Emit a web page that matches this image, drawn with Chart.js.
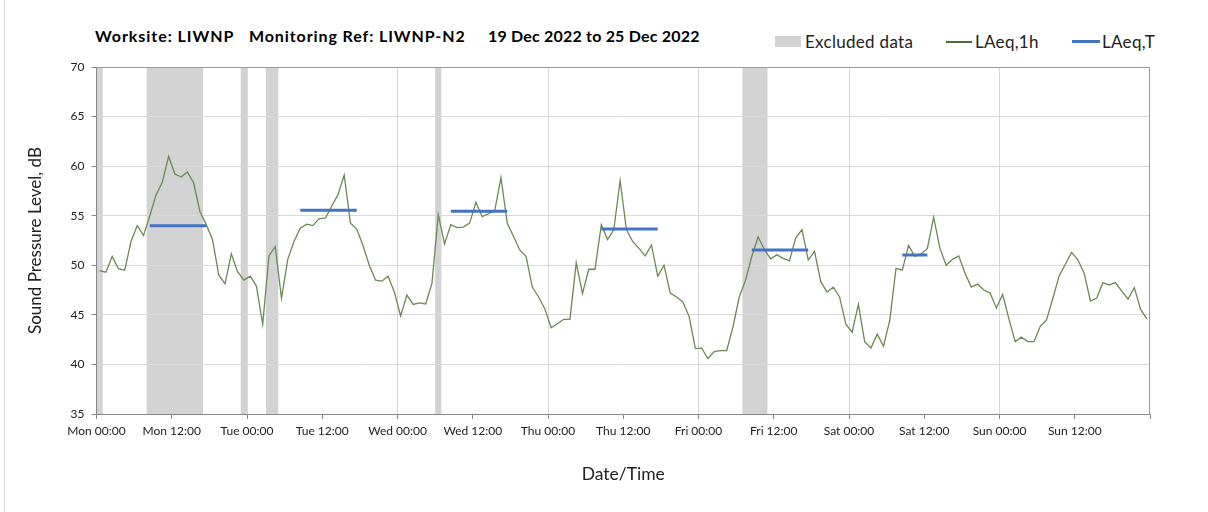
<!DOCTYPE html>
<html>
<head>
<meta charset="utf-8">
<script src="https://cdn.jsdelivr.net/npm/chart.js@4.4.0/dist/chart.umd.min.js"></script>
<style>
  body { margin: 0; background: #fff; font-family: Lato, "Open Sans", sans-serif; color: #000; }
  #wrap { position: relative; width: 1208px; height: 512px; overflow: hidden; }
  #frame { position: absolute; left: 4px; top: 0; width: 1px; height: 512px; background: #d9d9d9; }
  .ttl { position: absolute; top: 26px; font-weight: bold; font-size: 16px; white-space: nowrap; }
  .leg { position: absolute; top: 31px; font-size: 17px; letter-spacing: 0.3px; color: #222; white-space: nowrap; }
  .mark { position: absolute; }
  canvas { position: absolute; left: 0; top: 0; }
</style>
</head>
<body>
<div id="wrap">
  <div id="frame"></div>
  <span class="ttl" style="left:95px;letter-spacing:0.95px">Worksite: LIWNP</span>
  <span class="ttl" style="left:249px;letter-spacing:0.9px">Monitoring Ref: LIWNP-N2</span>
  <span class="ttl" style="left:488px;letter-spacing:0.2px">19 Dec 2022 to 25 Dec 2022</span>

  <div class="mark" style="left:775px;top:36px;width:26px;height:11px;background:#d3d3d3"></div>
  <span class="leg" style="left:805px">Excluded data</span>
  <div class="mark" style="left:946px;top:41px;width:26px;height:1.5px;background:#4f6b34"></div>
  <span class="leg" style="left:975px">LAeq,1h</span>
  <div class="mark" style="left:1072px;top:40px;width:28px;height:3px;background:#4472c4"></div>
  <span class="leg" style="left:1102px">LAeq,T</span>

  <canvas id="chart" width="1208" height="512"></canvas>
</div>
<script>
// tick labels every 12 hours, starting Mon 19 Dec 2022 00:00
const tickLabels = ['Mon 00:00', 'Mon 12:00', 'Tue 00:00', 'Tue 12:00', 'Wed 00:00', 'Wed 12:00',
  'Thu 00:00', 'Thu 12:00', 'Fri 00:00', 'Fri 12:00', 'Sat 00:00', 'Sat 12:00', 'Sun 00:00', 'Sun 12:00'];

// hourly LAeq,1h values (dB), one per hour from Mon 00:00
const laeq1h = [
  49.45, 49.3, 50.9, 49.65, 49.5, 52.4, 54.0, 53.0, 55.0, 57.1, 58.4, 61.0,
  59.2, 58.9, 59.4, 58.3, 55.4, 54.1, 52.6, 49.0, 48.15, 51.15, 49.35, 48.5,
  48.9, 47.9, 44.05, 50.95, 51.9, 46.7, 50.6, 52.4, 53.75, 54.15, 54.0, 54.7,
  54.75, 55.95, 57.1, 59.1, 54.25, 53.65, 52.0, 50.0, 48.5, 48.4, 48.9, 47.3,
  44.9, 47.0, 46.05, 46.2, 46.1, 48.2, 55.1, 52.15, 54.1, 53.8, 53.85, 54.25,
  56.35, 54.9, 55.2, 55.5, 58.85, 54.25, 52.9, 51.55, 50.9, 47.8, 46.8, 45.6,
  43.7, 44.1, 44.55, 44.55, 50.25, 47.15, 49.6, 49.6, 54.1, 52.6, 53.6, 58.55,
  53.6, 52.4, 51.7, 50.95, 52.05, 48.9, 50.0, 47.2, 46.8, 46.3, 44.85, 41.6,
  41.65, 40.6, 41.3, 41.4, 41.4, 43.8, 46.8, 48.5, 50.9, 52.85, 51.6, 50.65,
  51.05, 50.7, 50.45, 52.75, 53.6, 50.55, 51.4, 48.35, 47.3, 47.8, 46.8, 44.05,
  43.25, 46.05, 42.3, 41.65, 43.05, 41.85, 44.45, 49.7, 49.5, 52.0, 50.9, 51.15,
  51.7, 54.85, 51.7, 50.0, 50.6, 50.95, 49.2, 47.8, 48.1, 47.5, 47.2, 45.7,
  47.05, 44.6, 42.3, 42.75, 42.3, 42.3, 43.85, 44.5, 46.65, 48.9, 50.1, 51.3,
  50.55, 49.2, 46.4, 46.7, 48.25, 48.0, 48.25, 47.4, 46.6, 47.75, 45.55, 44.6
];

// LAeq,T daytime periods (hours from Mon 00:00) and levels
const periodStart = [8.5, 32.5, 56.5, 80.5, 104.5, 128.5];
const periodEnd = [17.5, 41.5, 65.5, 89.5, 113.5, 132.5];
const periodValue = [54.0, 55.55, 55.45, 53.65, 51.55, 51.05];

// excluded data ranges (hours from Mon 00:00)
const excludedStart = [0, 8, 23, 27, 54, 103];
const excludedEnd = [1, 17, 24, 29, 55, 107];

const hourlyPoints = laeq1h.map((v, i) => ({ x: i + 0.5, y: v }));
const periodPoints = [];
periodValue.forEach((v, i) => {
  periodPoints.push({ x: periodStart[i], y: v }, { x: periodEnd[i], y: v }, { x: periodEnd[i], y: null });
});

const excludedBands = {
  id: 'excludedBands',
  beforeDraw(chart) {
    const { ctx, chartArea, scales } = chart;
    ctx.save();
    ctx.fillStyle = '#d3d3d3';
    excludedStart.forEach((s, i) => {
      const x0 = scales.x.getPixelForValue(s);
      const x1 = scales.x.getPixelForValue(excludedEnd[i]);
      ctx.fillRect(x0, chartArea.top, x1 - x0, chartArea.bottom - chartArea.top);
    });
    ctx.restore();
  }
};

const plotFrame = {
  id: 'plotFrame',
  afterDatasetsDraw(chart) {
    const { ctx, chartArea } = chart;
    ctx.save();
    ctx.strokeStyle = '#999';
    ctx.lineWidth = 1;
    ctx.beginPath();
    ctx.moveTo(chartArea.left, chartArea.top + 0.5);
    ctx.lineTo(chartArea.right - 0.5, chartArea.top + 0.5);
    ctx.lineTo(chartArea.right - 0.5, chartArea.bottom);
    ctx.stroke();
    ctx.restore();
  }
};

const tickFont = { family: 'Lato', size: 12 };

new Chart(document.getElementById('chart').getContext('2d'), {
  type: 'line',
  data: {
    datasets: [
      {
        label: 'LAeq,T',
        data: periodPoints,
        borderColor: '#4472c4',
        borderWidth: 3,
        pointRadius: 0,
        spanGaps: false
      },
      {
        label: 'LAeq,1h',
        data: hourlyPoints,
        borderColor: '#6b8a52',
        borderWidth: 1.3,
        pointRadius: 0,
        tension: 0
      }
    ]
  },
  plugins: [excludedBands, plotFrame],
  options: {
    responsive: false,
    animation: false,
    layout: { padding: { left: 10, top: 67, right: 58, bottom: 0 } },
    plugins: { legend: { display: false }, tooltip: { enabled: false } },
    scales: {
      x: {
        type: 'linear',
        min: 0,
        max: 168,
        afterFit: s => { s.height = 98; },
        ticks: {
          stepSize: 12,
          autoSkip: false,
          maxRotation: 0,
          padding: 5,
          color: '#222',
          font: tickFont,
          callback: v => tickLabels[v / 12] || ''
        },
        grid: {
          color: c => (c.tick && c.tick.value % 24 === 0 && c.tick.value > 0 && c.tick.value < 168) ? '#d9d9d9' : 'rgba(0,0,0,0)',
          tickColor: '#888',
          tickLength: 5
        },
        border: { color: '#888' },
        title: {
          display: true,
          text: 'Date/Time',
          color: '#222',
          font: { family: 'Lato', size: 17.5 },
          padding: { top: 0, bottom: 27 }
        }
      },
      y: {
        min: 35,
        max: 70,
        afterFit: s => { s.width = 86.5; },
        ticks: {
          stepSize: 5,
          padding: 7,
          color: '#222',
          font: tickFont
        },
        grid: {
          color: '#d9d9d9',
          tickColor: '#888',
          tickLength: 5
        },
        border: { color: '#888' },
        title: {
          display: true,
          text: 'Sound Pressure Level, dB',
          color: '#222',
          font: { family: 'Lato', size: 17 },
          padding: { top: 15, bottom: 0 }
        }
      }
    }
  }
});
</script>
</body>
</html>
